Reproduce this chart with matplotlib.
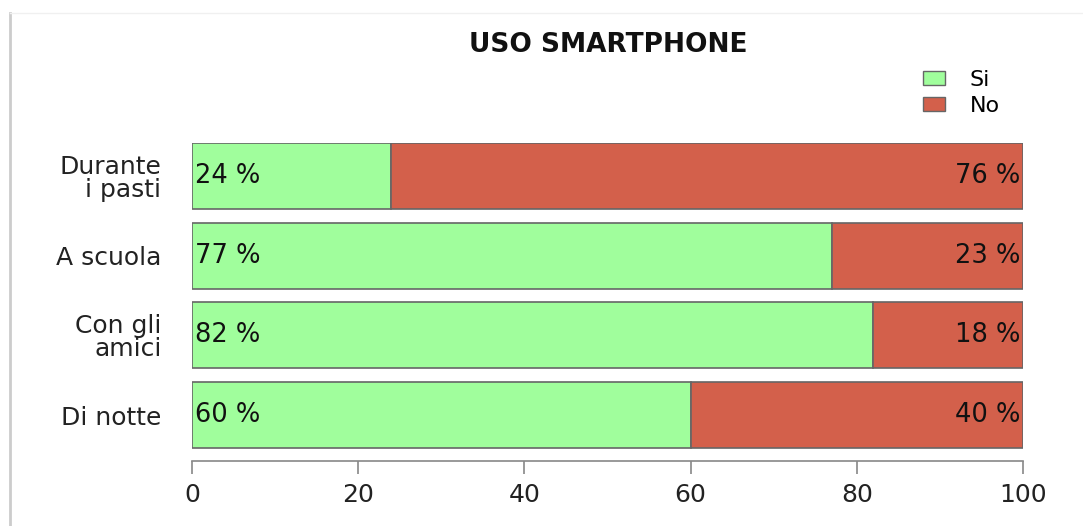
import numpy as np
import matplotlib.pyplot as plt
from matplotlib.patches import Patch

# dati
categorie = ['Durante\ni pasti', 'A scuola', 'Con gli\namici', 'Di notte']
si = [24, 77, 82, 60]
no = [76, 23, 18, 40]
tick_x = [0, 20, 40, 60, 80, 100]

verde = '#a0fe9c'
rosso = '#d3604b'

plt.rcParams['font.family'] = ['DejaVu Sans']

fig = plt.figure(figsize=(10.83, 5.26), dpi=100)
ax = fig.add_axes([0.1773, 0.1236, 0.7673, 0.6046])

y = np.arange(len(categorie))[::-1]
ax.barh(y, si, height=0.83, color=verde, edgecolor='#666666', linewidth=1.2)
ax.barh(y, no, left=si, height=0.83, color=rosso, edgecolor='#666666', linewidth=1.2)

for yi, s, n in zip(y, si, no):
    ax.text(0.3, yi, '%d %%' % s, ha='left', va='center', fontsize=18.5, color='#111111')
    ax.text(99.7, yi, '%d %%' % n, ha='right', va='center', fontsize=18.5, color='#111111')

for s in ['top', 'right', 'left']:
    ax.spines[s].set_visible(False)
ax.spines['bottom'].set_color('#888888')
ax.spines['bottom'].set_linewidth(1.2)
ax.spines['bottom'].set_position(('data', -0.577))

ax.set_xlim(0, 100)
ax.set_ylim(-0.577, 3.415)
ax.set_yticks(y)
ax.set_yticklabels(categorie, linespacing=0.95)
ax.set_xticks(tick_x)
ax.set_xticklabels([str(t) for t in tick_x])
ax.tick_params(axis='y', length=0, pad=22, labelsize=18, labelcolor='#222222')
ax.tick_params(axis='x', length=9, width=1.2, color='#888888', pad=7,
               labelsize=18, labelcolor='#222222')

fig.text(0.562, 0.914, 'USO SMARTPHONE', ha='center', va='center',
         fontsize=19, fontweight='bold', color='#111111')

handles = [Patch(facecolor=verde, edgecolor='#666666'),
           Patch(facecolor=rosso, edgecolor='#666666')]
fig.legend(handles, ['Si', 'No'], loc='upper left', bbox_to_anchor=(0.834, 0.905),
           frameon=False, fontsize=16, handlelength=1.0, handleheight=0.6,
           handletextpad=1.1, labelspacing=0.25)

# bordo sottile a sinistra e in alto
fig.add_artist(plt.Line2D([0.0095, 0.0095], [0, 0.975], color='#cccccc', lw=2))
fig.add_artist(plt.Line2D([0.0095, 1], [0.975, 0.975], color='#f0f0f0', lw=1))

fig.savefig('out.png', dpi=100)
